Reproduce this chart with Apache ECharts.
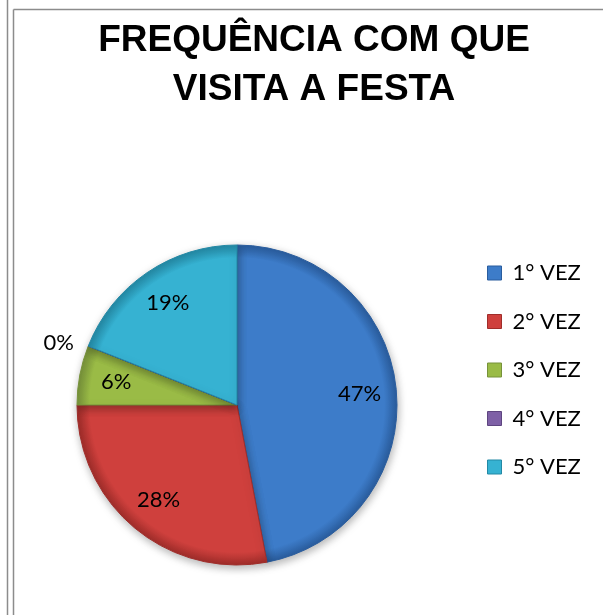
<!DOCTYPE html>
<html>
<head>
<meta charset="utf-8">
<script src="https://cdn.jsdelivr.net/npm/echarts@6/dist/echarts.min.js"></script>
<style>
html,body{margin:0;padding:0;background:#fff;}
#chart{width:603px;height:615px;}
</style>
</head>
<body>
<div id="chart"></div>
<script>
var titleText = 'FREQUÊNCIA COM QUE\nVISITA A FESTA';
var categories = ['1° VEZ', '2° VEZ', '3° VEZ', '4° VEZ', '5° VEZ'];
var values = [47, 28, 6, 0, 19];
var colors = ['#3D7CC9', '#CF403D', '#9ABB46', '#7E60A6', '#36B2D2'];
var darkColors = ['#2A5D9E', '#A02D2A', '#77923A', '#5E4580', '#2389A5'];

var CX = 237, CY = 405, R = 160;

function grad(i) {
  return new echarts.graphic.RadialGradient(CX, CY, R, [
    { offset: 0, color: colors[i] },
    { offset: 0.92, color: colors[i] },
    { offset: 1, color: darkColors[i] }
  ], true);
}

var mainData = categories.map(function (c, i) {
  return { name: c, value: values[i], itemStyle: { color: grad(i), borderColor: darkColors[i] } };
});
var labelData = categories.map(function (c, i) {
  var d = { name: c, value: values[i] };
  if (values[i] === 0) {
    d.label = { position: 'outside' };
  }
  return d;
});
var legendData = categories.map(function (c, i) {
  return { name: c, itemStyle: { color: colors[i], borderColor: darkColors[i], borderWidth: 1 } };
});

var chart = echarts.init(document.getElementById('chart'));
chart.setOption({
  animation: false,
  color: colors,
  title: {
    text: titleText,
    left: 309,
    top: 11,
    textAlign: 'center',
    textStyle: {
      fontFamily: 'Liberation Sans',
      fontWeight: 'bold',
      fontSize: 37,
      lineHeight: 49,
      color: '#000'
    }
  },
  legend: {
    orient: 'vertical',
    left: 487,
    top: 262,
    padding: 0,
    icon: 'rect',
    itemWidth: 14,
    itemHeight: 14,
    itemGap: 26.5,
    data: legendData,
    textStyle: {
      fontFamily: 'Lato',
      fontSize: 22,
      lineHeight: 22,
      color: '#000',
      padding: [0, 0, 0, 6]
    }
  },
  graphic: [
    { type: 'line', shape: { x1: 7.5, y1: 0, x2: 7.5, y2: 615 }, style: { stroke: '#8c8c8c', lineWidth: 1.5 } },
    { type: 'line', shape: { x1: 13.5, y1: 9.5, x2: 13.5, y2: 615 }, style: { stroke: '#8c8c8c', lineWidth: 1.5 } },
    { type: 'line', shape: { x1: 13.5, y1: 9.5, x2: 603, y2: 9.5 }, style: { stroke: '#8c8c8c', lineWidth: 1.5 } }
  ],
  series: [
    {
      type: 'pie',
      center: [CX, CY],
      radius: [0, R],
      startAngle: 90,
      clockwise: true,
      silent: true,
      label: { show: false },
      labelLine: { show: false },
      itemStyle: {
        borderWidth: 1,
        shadowBlur: 8,
        shadowOffsetY: 3,
        shadowOffsetX: 1,
        shadowColor: 'rgba(0,0,0,0.3)'
      },
      data: mainData
    },
    {
      type: 'pie',
      center: [CX, CY],
      radius: [80, R],
      startAngle: 90,
      clockwise: true,
      silent: true,
      legendHoverLink: false,
      itemStyle: { color: 'rgba(0,0,0,0)', borderWidth: 0 },
      label: {
        show: true,
        position: 'inside',
        formatter: '{c}%',
        fontFamily: 'Lato',
        fontSize: 22,
        color: '#000'
      },
      labelLine: { show: false, length: 10, length2: 0 },
      data: labelData
    }
  ]
});
</script>
</body>
</html>
